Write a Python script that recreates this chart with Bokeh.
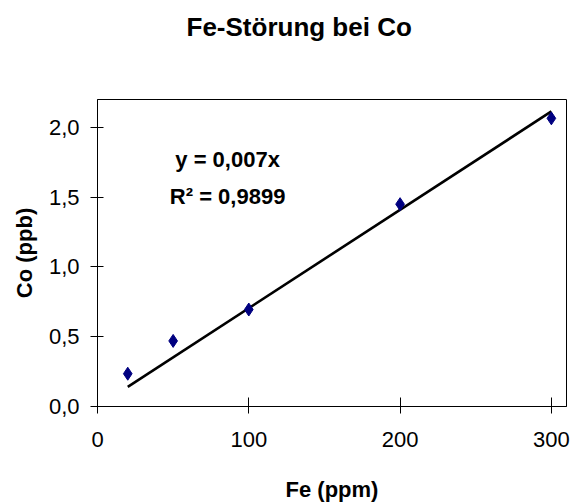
from bokeh.plotting import figure
from bokeh.models import Range1d, FixedTicker, Label, ColumnDataSource, Title
from bokeh.embed import file_html
from bokeh.resources import INLINE

# Data
fe_ppm = [20, 50, 100, 200, 300]
co_ppb = [0.235, 0.47, 0.695, 1.45, 2.065]
x_ticks = [0, 100, 200, 300]
x_tick_labels = ["0", "100", "200", "300"]
y_ticks = [0.0, 0.5, 1.0, 1.5, 2.0]
y_tick_labels = ["0,0", "0,5", "1,0", "1,5", "2,0"]
title_text = "Fe-Störung bei Co"
eq_text = "y = 0,007x"
r2_text = "R² = 0,9899"

# least squares through origin (Excel trendline with intercept 0)
slope = sum(a * b for a, b in zip(fe_ppm, co_ppb)) / sum(a * a for a in fe_ppm)
trend_x = [min(fe_ppm), max(fe_ppm)]
trend_y = [slope * v for v in trend_x]

FONT = "Liberation Sans"

p = figure(width=580, height=504, output_backend="svg", toolbar_location=None,
           x_range=Range1d(0, 310), y_range=Range1d(0, 2.2),
           min_border_left=97, min_border_right=14, min_border_top=99, min_border_bottom=98)

p.xgrid.visible = False
p.ygrid.visible = False
p.outline_line_color = "black"
p.outline_line_width = 1
p.background_fill_color = "white"
p.border_fill_color = "white"

for ax in (p.xaxis[0], p.yaxis[0]):
    ax.axis_line_color = "black"
    ax.major_tick_line_color = "black"
    ax.minor_tick_line_color = None
    ax.major_tick_out = 7
    ax.major_label_text_font = FONT
    ax.major_label_text_font_size = "22px"
    ax.major_label_text_color = "black"
    ax.axis_label_text_font = FONT
    ax.axis_label_text_font_size = "22px"
    ax.axis_label_text_font_style = "bold"
    ax.axis_label_text_color = "black"

p.xaxis[0].ticker = FixedTicker(ticks=x_ticks)
p.xaxis[0].major_label_overrides = dict(zip(x_ticks, x_tick_labels))
p.xaxis[0].major_tick_in = 9
p.xaxis[0].major_label_standoff = 18
p.xaxis[0].axis_label = "Fe (ppm)"
p.xaxis[0].axis_label_standoff = 27

p.yaxis[0].ticker = FixedTicker(ticks=y_ticks)
p.yaxis[0].major_label_overrides = dict(zip(y_ticks, y_tick_labels))
p.yaxis[0].major_tick_in = 6
p.yaxis[0].major_label_standoff = 11
p.yaxis[0].axis_label = "Co (ppb)"
p.yaxis[0].axis_label_standoff = 9

p.line(trend_x, trend_y, line_color="black", line_width=2.6)
src = ColumnDataSource(dict(x=fe_ppm, y=co_ppb))
p.scatter("x", "y", source=src, marker="diamond", size=13,
          fill_color="#000080", line_color="#000080")

for txt, yy in ((eq_text, 1.773), (r2_text, 1.508)):
    p.add_layout(Label(x=86, y=yy, text=txt, text_align="center", text_baseline="middle",
                       text_font=FONT, text_font_size="22px", text_font_style="bold",
                       text_color="black"))

# spacer between frame and title, then the title itself (stacked further out)
p.add_layout(Title(text=" ", text_font_size="1px", standoff=47), "above")
p.add_layout(Title(text=title_text, text_font=FONT, text_font_size="26px",
                   text_font_style="bold", text_color="black",
                   align="left", offset=89, standoff=16), "above")

open("out.html", "w").write(file_html(p, INLINE))
